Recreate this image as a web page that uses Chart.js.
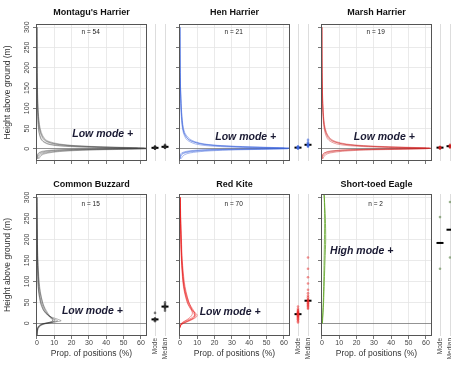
<!DOCTYPE html>
<html>
<head>
<meta charset="utf-8">
<script src="https://cdn.jsdelivr.net/npm/chart.js@4/dist/chart.umd.min.js"></script>
<style>
  body { margin: 0; background: #fff; }
  #fig { position: relative; width: 451px; height: 365px; overflow: hidden; }
  #fig canvas { position: absolute; }
</style>
</head>
<body>
<div id="fig"></div>
<script>
// ---- data ----
const species = ["Montagu's Harrier", 'Hen Harrier', 'Marsh Harrier', 'Common Buzzard', 'Red Kite', 'Short-toed Eagle'];
const sampleSizes = [54, 21, 19, 15, 70, 2];
const modeTexts = ['Low mode +', 'Low mode +', 'Low mode +', 'Low mode +', 'Low mode +', 'High mode +'];
const xTickValues = [0, 10, 20, 30, 40, 50, 60];
const yTickValues = [0, 50, 100, 150, 200, 250, 300];
const stripLabels = ['Mode', 'Median'];

// height profiles (m) and proportion of positions (%) per individual
const harrierHeights = [-25, -15, -10, -6, -3, -1.5, 0, 1.5, 3, 5, 8, 12, 18, 25, 40, 60, 100, 150, 200, 300];
const montaguCurves = [
  [0, 1, 3, 8, 18, 32, 52, 64, 48, 32, 18, 10, 5.5, 3.5, 2, 1.1, 0.5, 0.25, 0.1, 0],
  [0.5, 2, 5, 12, 25, 40, 60, 64, 42, 26, 13, 7, 4, 2.5, 1.4, 0.8, 0.4, 0.2, 0.1, 0],
  [0, 0.5, 1.5, 5, 12, 24, 45, 62, 55, 38, 22, 13, 7, 4.5, 2.6, 1.5, 0.7, 0.35, 0.15, 0.05],
  [0, 0.3, 1, 3, 9, 20, 40, 58, 50, 35, 20, 11, 6, 4, 2.2, 1.3, 0.6, 0.3, 0.1, 0],
  [1, 3, 7, 15, 30, 48, 63, 60, 38, 22, 11, 6, 3.5, 2.2, 1.2, 0.7, 0.3, 0.15, 0.05, 0]
];
const henCurves = [
  [0, 1, 3, 9, 20, 35, 55, 64, 50, 34, 20, 12, 7.5, 4.5, 2.3, 1.4, 0.7, 0.35, 0.15, 0.05],
  [0.5, 2.5, 6, 14, 28, 45, 62, 60, 40, 26, 15, 9, 5.5, 3.5, 2, 1.2, 0.6, 0.3, 0.1, 0],
  [0, 0.5, 2, 6, 14, 26, 46, 63, 56, 40, 24, 14, 8.5, 5.5, 2.8, 1.7, 0.9, 0.4, 0.2, 0.05],
  [0, 0.2, 1, 4, 10, 20, 40, 60, 52, 36, 22, 13, 7, 4.5, 2.4, 1.5, 0.8, 0.4, 0.15, 0]
];
const marshCurves = [
  [0, 1, 3, 8, 18, 32, 52, 64, 50, 34, 20, 12, 7, 4.5, 2.4, 1.3, 0.6, 0.3, 0.1, 0],
  [0.5, 2, 5, 12, 25, 42, 60, 62, 42, 27, 15, 8.5, 5, 3.2, 1.8, 1.0, 0.5, 0.2, 0.1, 0],
  [0, 0.5, 1.5, 5, 12, 24, 44, 62, 56, 40, 24, 14, 8, 5, 2.7, 1.5, 0.7, 0.3, 0.1, 0],
  [0, 0.3, 1.5, 4, 11, 22, 42, 60, 50, 35, 21, 12, 6.5, 4, 2.2, 1.2, 0.5, 0.25, 0.1, 0]
];
const buzzardHeights = [-30, -20, -12, -6, -2, 0, 3, 6, 10, 15, 20, 30, 40, 50, 75, 100, 150, 200, 250, 300];
const buzzardCurves = [
  [0, 0.2, 0.5, 1.5, 3, 4.5, 8, 10.5, 9.5, 8, 6.5, 4.5, 3.5, 2.6, 1.4, 0.9, 0.4, 0.2, 0.1, 0],
  [0, 0.1, 0.3, 1, 2.5, 4, 9, 14, 12, 8.5, 6.5, 4, 3, 2.2, 1.1, 0.6, 0.3, 0.15, 0.05, 0],
  [0, 0.3, 0.8, 2, 4, 6, 9, 9.5, 8.5, 7.5, 6.5, 5, 4, 3.2, 1.8, 1.1, 0.5, 0.3, 0.1, 0],
  [0, 0.1, 0.4, 1.2, 3, 5, 10, 12, 10, 8, 6, 4, 2.8, 2, 1, 0.6, 0.3, 0.1, 0.05, 0],
  [0, 0.2, 0.6, 1.8, 3.5, 5, 7.5, 9, 9, 8, 7, 5.5, 4.2, 3.3, 2, 1.3, 0.6, 0.3, 0.15, 0.05]
];
const kiteHeights = [-10, -5, 0, 5, 10, 15, 20, 25, 30, 40, 50, 75, 100, 150, 200, 250, 300];
const kiteCurves = [
  [0, 0.4, 1.5, 4, 6.5, 8.5, 9, 8.5, 7.5, 6, 4.8, 3, 2, 1.1, 0.7, 0.4, 0.2],
  [0, 0.3, 1, 3, 5.5, 7.5, 8.5, 8.5, 8, 6.5, 5.2, 3.3, 2.2, 1.2, 0.7, 0.4, 0.2],
  [0, 0.5, 2, 5, 7.5, 9.5, 10, 9, 7.5, 5.5, 4.2, 2.6, 1.7, 0.9, 0.5, 0.3, 0.1],
  [0, 0.2, 0.8, 2.5, 4.5, 6, 7, 7.2, 7, 6.2, 5.2, 3.6, 2.5, 1.4, 0.9, 0.5, 0.3],
  [0, 0.4, 1.8, 4.5, 7, 8.5, 8.5, 7.8, 6.8, 5.4, 4.4, 2.8, 1.9, 1.0, 0.6, 0.35, 0.15]
];
const eagleHeights = [0, 25, 50, 100, 150, 200, 250, 300, 308];
const eagleCurves = [
  [0.3, 0.7, 1.0, 1.4, 1.8, 2.2, 2.0, 1.4, 1.2],
  [0.2, 0.5, 0.8, 1.1, 1.3, 1.5, 1.6, 1.4, 1.3]
];

// per-individual modal and median heights (m)
const montaguMode = [0.5, 1, 1, 1.5, 2, 2, 2, 2.5, 2.5, 3, 3, 3.5, 4, 5, 6];
const montaguMedian = [2, 3, 3.5, 4, 4.5, 5, 5, 5, 5.5, 6, 6.5, 7, 8, 10];
const henMode = [0.5, 1.5, 2, 3, 3, 4, 5, 6];
const henMedian = [5, 7, 8, 9, 10, 10, 11, 13, 16, 22];
const marshMode = [0.5, 1.5, 2, 3, 3.5, 4, 5];
const marshMedian = [3, 4.5, 5.5, 6.5, 7, 8, 10];
const buzzardMode = [5, 7, 8, 9, 10, 11, 12, 25];
const buzzardMedian = [30, 34, 37, 39, 40, 41, 43, 46, 50];
const kiteMode = [2, 5, 8, 10, 12, 14, 15, 17, 18, 19, 20, 22, 22, 23, 24, 25, 26, 27, 28, 30, 32, 35, 40];
const kiteMedian = [35, 37, 40, 42, 44, 46, 48, 50, 52, 53, 54, 56, 58, 62, 66, 72, 80, 95, 110, 130, 157];
const eagleMode = [130, 253];
const eagleMedian = [157, 289];

// ---- styling / layout ----
const lineColors = ['rgba(60,60,60,0.35)', 'rgba(60,100,220,0.45)', 'rgba(205,30,30,0.4)',
                    'rgba(40,40,40,0.35)', 'rgba(230,20,20,0.45)', 'rgba(90,160,30,0.75)'];
const dotColors = ['rgba(40,40,40,0.6)', 'rgba(60,100,220,0.6)', 'rgba(205,30,30,0.55)',
                   'rgba(40,40,40,0.6)', 'rgba(235,40,40,0.5)', 'rgba(90,130,70,0.6)'];
const modeTextPos = [[38, 37], [38, 30], [36, 28], [32, 29], [29, 26], [23, 173]];
const FONT = "'Liberation Sans', Arial, sans-serif";

const boxLeft = [36, 179, 321];
const boxW = 111;
const rowTop = [0, 175];
const titleH = [24, 19];
const boxH = [137, 142];
const xAxisH = [6, 29];
const Y_MIN = -30, Y_MAX = 308;

const profiles = [
  [harrierHeights, montaguCurves], [harrierHeights, henCurves], [harrierHeights, marshCurves],
  [buzzardHeights, buzzardCurves], [kiteHeights, kiteCurves], [eagleHeights, eagleCurves]
];
const strips = [
  [montaguMode, montaguMedian], [henMode, henMedian], [marshMode, marshMedian],
  [buzzardMode, buzzardMedian], [kiteMode, kiteMedian], [eagleMode, eagleMedian]
];

function median(arr) {
  const s = [...arr].sort((a, b) => a - b);
  const m = Math.floor(s.length / 2);
  return s.length % 2 ? s[m] : (s[m - 1] + s[m]) / 2;
}

const fig = document.getElementById('fig');
function addCanvas(left, top, w, h) {
  const c = document.createElement('canvas');
  c.width = w; c.height = h;
  c.style.left = left + 'px'; c.style.top = top + 'px';
  c.style.width = w + 'px'; c.style.height = h + 'px';
  fig.appendChild(c);
  return c;
}

// box, title and in-plot texts
const panelDecor = {
  id: 'panelDecor',
  afterDatasetsDraw(chart, args, opts) {
    const { ctx, chartArea: a, scales } = chart;
    ctx.save();
    ctx.strokeStyle = '#555';
    ctx.lineWidth = 1;
    ctx.strokeRect(Math.round(a.left) + 0.5, Math.round(a.top) + 0.5,
                   Math.round(a.right - a.left) - 1, Math.round(a.bottom - a.top) - 1);
    ctx.fillStyle = '#111';
    ctx.textAlign = 'center';
    ctx.textBaseline = 'middle';
    ctx.font = 'bold 9px ' + FONT;
    ctx.fillText(opts.title, (a.left + a.right) / 2, a.top - opts.titleOffset);
    ctx.font = '6.5px ' + FONT;
    ctx.fillStyle = '#222';
    ctx.fillText('n = ' + opts.n, scales.x.getPixelForValue(31), scales.y.getPixelForValue(opts.nY));
    ctx.font = 'italic bold 10.5px ' + FONT;
    ctx.fillStyle = '#1a1a33';
    ctx.fillText(opts.modeText, scales.x.getPixelForValue(opts.modePos[0]), scales.y.getPixelForValue(opts.modePos[1]));
    ctx.restore();
  }
};

for (let p = 0; p < 6; p++) {
  const row = Math.floor(p / 3), col = p % 3;
  const yAxisW = col === 0 ? 36 : 8;
  const L = boxLeft[col];
  const h = titleH[row] + boxH[row] + xAxisH[row];
  const [heights, curves] = profiles[p];

  // main profile panel
  const main = addCanvas(L - yAxisW, rowTop[row], yAxisW + boxW + 2, h);
  new Chart(main, {
    type: 'scatter',
    data: {
      datasets: curves.map(cv => ({
        data: heights.map((y, i) => ({ x: cv[i], y })),
        showLine: true,
        pointRadius: 0,
        borderColor: lineColors[p],
        borderWidth: 1,
        tension: 0.3
      }))
    },
    options: {
      responsive: false,
      animation: false,
      events: [],
      layout: { autoPadding: false, padding: { top: titleH[row], right: 2, left: 0, bottom: 0 } },
      plugins: {
        legend: { display: false },
        tooltip: { enabled: false },
        panelDecor: {
          title: species[p], titleOffset: row === 0 ? 11 : 9, n: sampleSizes[p],
          nY: row === 0 ? 287 : 283, modeText: modeTexts[p], modePos: modeTextPos[p]
        }
      },
      scales: {
        x: {
          type: 'linear', min: -0.5, max: 63.5,
          afterBuildTicks: s => { s.ticks = xTickValues.map(v => ({ value: v })); },
          afterFit: s => { s.height = xAxisH[row]; s.paddingLeft = 0; s.paddingRight = 0; },
          grid: { color: '#e4e4e4', lineWidth: 0.8, tickColor: '#555', tickLength: 3 },
          border: { display: false },
          ticks: { display: row === 1, maxRotation: 0, padding: 0, color: '#444', font: { family: FONT, size: 7 } },
          title: { display: row === 1, text: 'Prop. of positions (%)', color: '#333',
                   font: { family: FONT, size: 8.5 }, padding: { top: 0, bottom: 6 } }
        },
        y: {
          type: 'linear', min: Y_MIN, max: Y_MAX,
          afterBuildTicks: s => { s.ticks = yTickValues.map(v => ({ value: v })); },
          afterFit: s => { s.width = yAxisW; },
          grid: {
            color: c => (c.tick && c.tick.value === 0 ? '#777' : '#e4e4e4'),
            lineWidth: 0.8, tickColor: '#555', tickLength: 3
          },
          border: { display: false },
          ticks: { display: col === 0, minRotation: 90, maxRotation: 90, crossAlign: 'center',
                   padding: 0, color: '#444', font: { family: FONT, size: 7 } },
          title: { display: col === 0, text: 'Height above ground (m)', color: '#333',
                   font: { family: FONT, size: 8.5 }, padding: { top: 3, bottom: 0 } }
        }
      }
    },
    plugins: [panelDecor]
  });

  // mode / median strips: x = 1 for Mode, 2 for Median
  const R = L + boxW;
  const [modes, medians] = strips[p];
  const strip = addCanvas(R + 3, rowTop[row], 20, h);
  new Chart(strip, {
    type: 'scatter',
    data: {
      datasets: [
        {
          data: modes.map(v => ({ x: 1, y: v })).concat(medians.map(v => ({ x: 2, y: v }))),
          pointRadius: 1.3, borderWidth: 0, backgroundColor: dotColors[p]
        },
        {
          data: [{ x: 1, y: median(modes) }, { x: 2, y: median(medians) }],
          pointStyle: 'line', pointRadius: 3.5, borderWidth: 2, borderColor: '#000'
        }
      ]
    },
    options: {
      responsive: false,
      animation: false,
      events: [],
      layout: { autoPadding: false, padding: { top: titleH[row], left: 0, right: 0, bottom: 0 } },
      plugins: { legend: { display: false }, tooltip: { enabled: false } },
      scales: {
        x: {
          type: 'linear', min: 0.5, max: 2.5,
          afterBuildTicks: s => { s.ticks = [{ value: 1 }, { value: 2 }]; },
          afterFit: s => { s.height = xAxisH[row]; s.paddingLeft = 0; s.paddingRight = 0; },
          grid: { color: '#d4d4d4', lineWidth: 0.8, drawTicks: false },
          border: { display: false },
          ticks: { display: row === 1, minRotation: 90, maxRotation: 90, autoSkip: false, padding: 2,
                   callback: v => stripLabels[v - 1], color: '#444', font: { family: FONT, size: 6.5 } }
        },
        y: { type: 'linear', min: Y_MIN, max: Y_MAX, display: false }
      }
    }
  });
}
</script>
</body>
</html>
